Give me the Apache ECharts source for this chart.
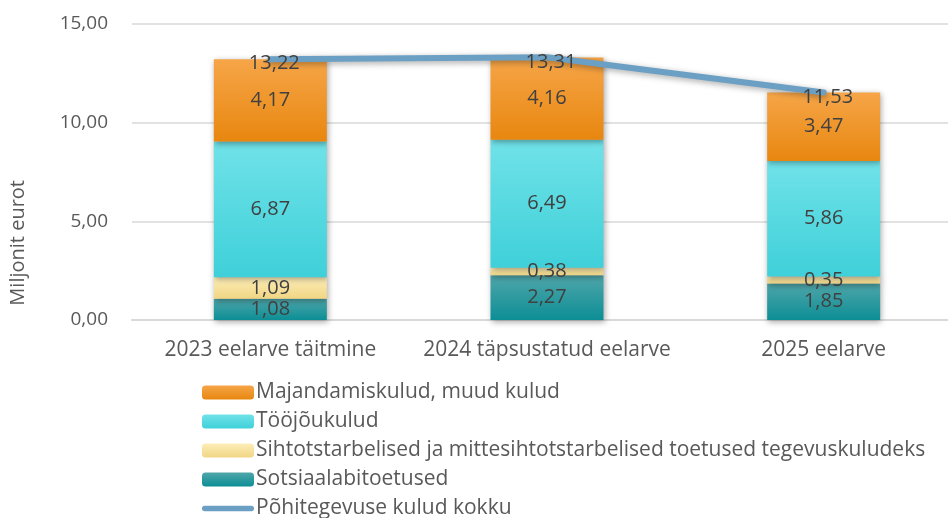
<!DOCTYPE html>
<html><head><meta charset="utf-8">
<script src="https://cdn.jsdelivr.net/npm/echarts@6/dist/echarts.min.js"></script>
<style>html,body{margin:0;padding:0;background:#fff;overflow:hidden;width:948px;height:518px}#c{width:962px;height:540px}</style>
</head><body><div id="c"></div>
<script>
const categories = ['2023 eelarve täitmine', '2024 täpsustatud eelarve', '2025 eelarve'];
const sotsiaal = [1.08, 2.27, 1.85];
const siht = [1.09, 0.38, 0.35];
const tooj = [6.87, 6.49, 5.86];
const majand = [4.17, 4.16, 3.47];
const kokku = [13.22, 13.31, 11.53];
const yTicks = [0, 5, 10, 15];

const FONT = 'Open Sans';
const FS = 21;
const fmt = v => v.toFixed(2).replace('.', ',');
const grad = (a, b) => new echarts.graphic.LinearGradient(0, 0, 0, 1, [{offset: 0, color: a}, {offset: 1, color: b}]);
const shadow = {shadowColor: 'rgba(0,0,0,0.35)', shadowBlur: 6, shadowOffsetX: 1, shadowOffsetY: 2};
const lbl = {show: true, position: 'inside', color: '#404040', fontSize: 20, fontFamily: FONT, formatter: p => fmt(p.value)};

function barSeries(name, data, c1, c2) {
  return {name, type: 'bar', stack: 's', data, barWidth: 113,
    itemStyle: Object.assign({color: grad(c1, c2)}, shadow), label: lbl};
}

const chart = echarts.init(document.getElementById('c'));
chart.setOption({
  animation: false,
  textStyle: {fontFamily: FONT},
  grid: {left: 132, top: 24, right: 0, height: 296},
  xAxis: {type: 'category', data: categories,
    axisLine: {lineStyle: {color: '#d9d9d9', width: 2}}, axisTick: {show: false},
    axisLabel: {color: '#595959', fontSize: FS, fontFamily: FONT, margin: 20, interval: 0}},
  yAxis: {type: 'value', min: yTicks[0], max: yTicks[yTicks.length - 1], interval: 5,
    axisLabel: {color: '#595959', fontSize: 19, fontFamily: FONT, margin: 24, formatter: v => fmt(v)},
    splitLine: {lineStyle: {color: '#d9d9d9', width: 1.5}}, axisLine: {show: false}},
  legend: {orient: 'vertical', left: 197, top: 377, itemWidth: 52, itemHeight: 14, itemGap: 8,
    textStyle: {color: '#595959', fontSize: FS, fontFamily: FONT, padding: [0, 0, 0, -3]},
    data: [
      {name: 'Majandamiskulud, muud kulud'},
      {name: 'Tööjõukulud'},
      {name: 'Sihtotstarbelised ja mittesihtotstarbelised toetused tegevuskuludeks'},
      {name: 'Sotsiaalabitoetused'},
      {name: 'Põhitegevuse kulud kokku', icon: 'path://M3,0 L55,0 A3,3 0 0 1 55,6 L3,6 A3,3 0 0 1 3,0 Z'}
    ]},
  graphic: [{type: 'text', left: 8, top: 180, rotation: Math.PI / 2,
    style: {text: 'Miljonit eurot', fill: '#595959', font: '20px ' + FONT}}],
  series: [
    barSeries('Sotsiaalabitoetused', sotsiaal, '#4fa6aa', '#0c8e95'),
    barSeries('Sihtotstarbelised ja mittesihtotstarbelised toetused tegevuskuludeks', siht, '#fdeeb8', '#f0d583'),
    barSeries('Tööjõukulud', tooj, '#70e2e8', '#3fd0d9'),
    barSeries('Majandamiskulud, muud kulud', majand, '#f6a548', '#e8870f'),
    {name: 'Põhitegevuse kulud kokku', type: 'line', data: kokku, z: 5, symbol: 'circle', symbolSize: 1, showSymbol: true,
      lineStyle: Object.assign({color: '#6b9fc3', width: 6, cap: 'round'}, shadow),
      itemStyle: {color: '#6b9fc3'},
      label: {show: true, position: 'top', distance: -15, offset: [4, 0], color: '#404040', fontSize: 20, fontFamily: FONT, formatter: p => fmt(p.value)}}
  ]
});
</script></body></html>
